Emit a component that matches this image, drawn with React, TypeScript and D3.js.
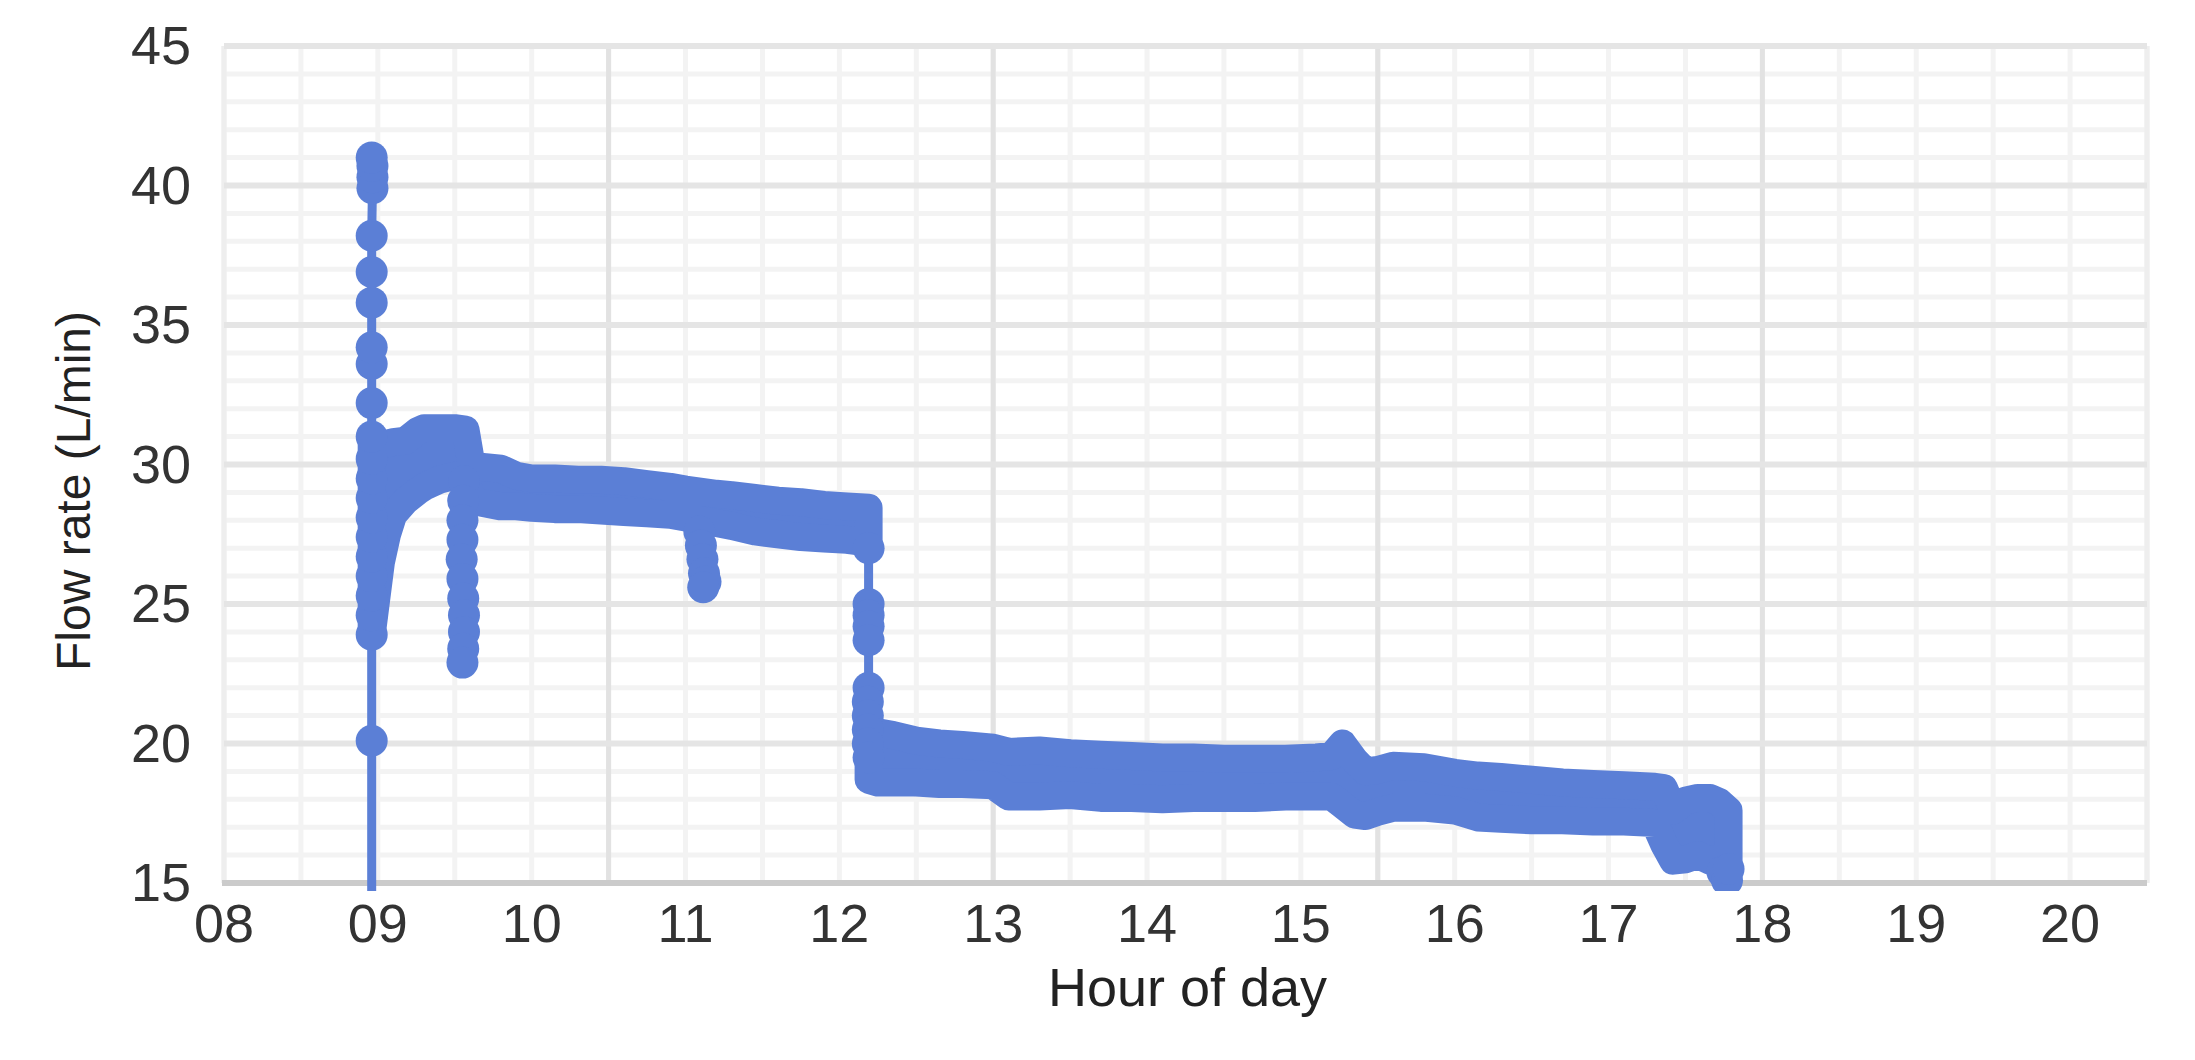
import React from "react";
import * as d3 from "d3";

// ---------- axis / tick data ----------
const xTickHours = [8, 9, 10, 11, 12, 13, 14, 15, 16, 17, 18, 19, 20];
const xTickLabels = ["08", "09", "10", "11", "12", "13", "14", "15", "16", "17", "18", "19", "20"];
const yTickValues = [15, 20, 25, 30, 35, 40, 45];
const xMajorGrid = [8, 10.5, 13, 15.5, 18, 20.5];
const xDomain = [8, 20.5];
const yDomain = [15, 45];

// ---------- band envelopes (min / max readings over time) ----------
const band1Hours = [8.96, 8.99, 9.02, 9.06, 9.1, 9.18, 9.26, 9.3, 9.4, 9.5, 9.57, 9.61, 9.7, 9.8, 9.9, 10.0, 10.15, 10.3, 10.45, 10.6, 10.75, 10.9, 11.0, 11.2, 11.3, 11.45, 11.6, 11.75, 11.9, 12.05, 12.19];
const band1High = [30.9, 30.8, 30.75, 30.75, 30.8, 30.85, 31.2, 31.3, 31.3, 31.3, 31.25, 29.95, 29.9, 29.85, 29.6, 29.5, 29.5, 29.45, 29.45, 29.4, 29.3, 29.2, 29.1, 28.95, 28.9, 28.8, 28.7, 28.65, 28.55, 28.5, 28.45];
const band1Low = [23.9, 25.2, 26.5, 27.5, 28.2, 28.7, 29.05, 29.2, 29.45, 29.6, 29.6, 28.7, 28.6, 28.5, 28.5, 28.45, 28.4, 28.4, 28.35, 28.3, 28.25, 28.2, 28.1, 27.9, 27.8, 27.6, 27.5, 27.4, 27.35, 27.3, 27.2];

const band2Hours = [12.19, 12.25, 12.35, 12.5, 12.65, 12.8, 13.0, 13.1, 13.3, 13.5, 13.7, 13.9, 14.1, 14.3, 14.5, 14.7, 14.9, 15.1, 15.2, 15.27, 15.35, 15.42, 15.5, 15.6, 15.8, 16.0, 16.15, 16.3, 16.5, 16.7, 16.9, 17.1, 17.3, 17.36, 17.42, 17.5, 17.58, 17.66, 17.72, 17.78];
const band2High = [20.4, 20.4, 20.3, 20.1, 20.0, 19.95, 19.85, 19.7, 19.75, 19.65, 19.6, 19.55, 19.5, 19.5, 19.45, 19.45, 19.45, 19.5, 19.55, 20.0, 19.4, 19.0, 19.05, 19.2, 19.15, 18.95, 18.85, 18.8, 18.7, 18.6, 18.55, 18.5, 18.45, 18.4, 17.6, 17.95, 18.05, 18.05, 17.9, 17.6];
const band2Low = [18.7, 18.6, 18.6, 18.6, 18.55, 18.55, 18.5, 18.1, 18.1, 18.15, 18.05, 18.05, 18.0, 18.05, 18.05, 18.05, 18.1, 18.1, 18.1, 17.8, 17.45, 17.4, 17.55, 17.7, 17.7, 17.6, 17.35, 17.3, 17.25, 17.25, 17.2, 17.2, 17.15, 16.4, 15.8, 15.85, 16.0, 15.8, 15.9, 15.6];

// ---------- individual readings during transitions ----------
const spikeHours = [8.96, 8.96, 8.96, 8.96, 8.96, 8.96, 8.96, 8.96, 8.96, 8.96, 8.96, 8.96, 8.96, 8.96, 8.96, 8.96, 8.96, 8.96, 8.96, 8.965, 8.965, 8.965, 8.96];
const spikeValues = [0, 20.1, 23.9, 24.6, 25.3, 26.0, 26.7, 27.4, 28.1, 28.8, 29.5, 30.2, 31.0, 32.2, 33.6, 34.2, 35.8, 36.9, 38.2, 39.9, 40.3, 40.7, 41.0];
const drop1Hours = [9.56, 9.555, 9.55, 9.55, 9.545, 9.55, 9.555, 9.56, 9.56, 9.555, 9.55];
const drop1Values = [29.4, 28.7, 28.0, 27.3, 26.6, 25.9, 25.2, 24.6, 24.0, 23.4, 22.9];
const dipHours = [11.09, 11.1, 11.11, 11.12, 11.13, 11.115];
const dipValues = [27.6, 27.1, 26.6, 26.1, 25.8, 25.6];
const drop2Hours = [12.19, 12.19, 12.19, 12.19, 12.19, 12.19, 12.185, 12.185, 12.185, 12.185, 12.19];
const drop2Values = [27.0, 25.0, 24.6, 24.2, 23.7, 22.0, 21.5, 21.0, 20.5, 20.0, 19.5];
const tailHours = [17.74, 17.77, 17.78];
const tailValues = [15.4, 15.1, 15.5];

const W = 2195;
const H = 1060;
const plot = { left: 224, right: 2147, top: 46, bottom: 883 };
const R = 14;
const RC = 16;
const BLUE = "#5b7fd6";
const FONT = "'Liberation Sans', Arial, sans-serif";

export default function App() {
  const x = d3.scaleLinear().domain(xDomain).range([plot.left, plot.right]);
  const y = d3.scaleLinear().domain(yDomain).range([plot.bottom, plot.top]);

  const xMinor = d3.range(xDomain[0], xDomain[1] + 0.001, 0.5);
  const yMinor = d3.range(yDomain[0], yDomain[1] + 0.001, 1);

  const bandPath = (hours: number[], lo: number[], hi: number[]) =>
    d3
      .area<number>()
      .x((_, i) => x(hours[i]))
      .y0((_, i) => y(lo[i]))
      .y1((_, i) => y(hi[i]))(hours.map((_, i) => i)) || "";

  const runs = [
    { h: spikeHours, v: spikeValues },
    { h: drop1Hours, v: drop1Values },
    { h: dipHours, v: dipValues },
    { h: drop2Hours, v: drop2Values },
    { h: tailHours, v: tailValues },
  ];
  const line = d3
    .line<[number, number]>()
    .x((d) => x(d[0]))
    .y((d) => y(d[1]));

  return (
    <svg width={W} height={H} style={{ display: "block", position: "absolute", left: 0, top: 0, background: "#fff" }}>
      <defs>
        <clipPath id="plotclip">
          <rect x={plot.left - 40} y={0} width={plot.right - plot.left + 80} height={891} />
        </clipPath>
      </defs>
      <rect x={0} y={0} width={W} height={H} fill="#fff" />
      {/* minor gridlines */}
      {yMinor.map((v) => (
        <line key={"ym" + v} x1={plot.left} x2={plot.right} y1={y(v)} y2={y(v)} stroke="#f3f3f3" strokeWidth={5} />
      ))}
      {xMinor.map((h) => (
        <line key={"xm" + h} x1={x(h)} x2={x(h)} y1={plot.top} y2={plot.bottom} stroke="#f3f3f3" strokeWidth={5} />
      ))}
      {/* major gridlines */}
      {xMajorGrid.map((h) => (
        <line
          key={"xM" + h}
          x1={x(h)}
          x2={x(h)}
          y1={plot.top}
          y2={plot.bottom}
          stroke={h === xDomain[0] || h === xDomain[1] ? "#eeeeee" : "#e2e2e2"}
          strokeWidth={5}
        />
      ))}
      {yTickValues.map((v) => (
        <line key={"yM" + v} x1={plot.left} x2={plot.right} y1={y(v)} y2={y(v)} stroke="#e5e5e5" strokeWidth={6} />
      ))}
      {/* baseline */}
      <line x1={plot.left - 2} x2={plot.right} y1={y(15)} y2={y(15)} stroke="#cbcbcb" strokeWidth={6} />

      {/* data */}
      <g clipPath="url(#plotclip)">
        {[
          [band1Hours, band1Low, band1High],
          [band2Hours, band2Low, band2High],
        ].map((b, i) => (
          <path
            key={"band" + i}
            d={bandPath(b[0], b[1], b[2])}
            fill={BLUE}
            stroke={BLUE}
            strokeWidth={2 * R}
            strokeLinejoin="round"
          />
        ))}
        {runs.map((r, i) => (
          <path
            key={"run" + i}
            d={line(r.h.map((h, k) => [h, r.v[k]] as [number, number])) || ""}
            fill="none"
            stroke={BLUE}
            strokeWidth={9}
          />
        ))}
        {runs.map((r, i) =>
          r.h.map((h, k) => <circle key={"c" + i + "-" + k} cx={x(h)} cy={y(r.v[k])} r={RC} fill={BLUE} />)
        )}
      </g>

      {/* y tick labels */}
      {yTickValues.map((v) => (
        <text
          key={"yl" + v}
          x={191}
          y={y(v) + 4}
          textAnchor="end"
          dominantBaseline="middle"
          fontFamily={FONT}
          fontSize={54}
          fill="#333"
        >
          {v}
        </text>
      ))}
      {/* x tick labels */}
      {xTickHours.map((h, i) => (
        <text key={"xl" + h} x={x(h)} y={942} textAnchor="middle" fontFamily={FONT} fontSize={54} fill="#333">
          {xTickLabels[i]}
        </text>
      ))}
      {/* axis titles */}
      <text x={(plot.left + plot.right) / 2 + 2} y={1006} textAnchor="middle" fontFamily={FONT} fontSize={54} fill="#222">
        Hour of day
      </text>
      <text
        transform={`translate(90, 491) rotate(-90)`}
        textAnchor="middle"
        fontFamily={FONT}
        fontSize={48}
        fill="#222"
      >
        Flow rate (L/min)
      </text>
    </svg>
  );
}
